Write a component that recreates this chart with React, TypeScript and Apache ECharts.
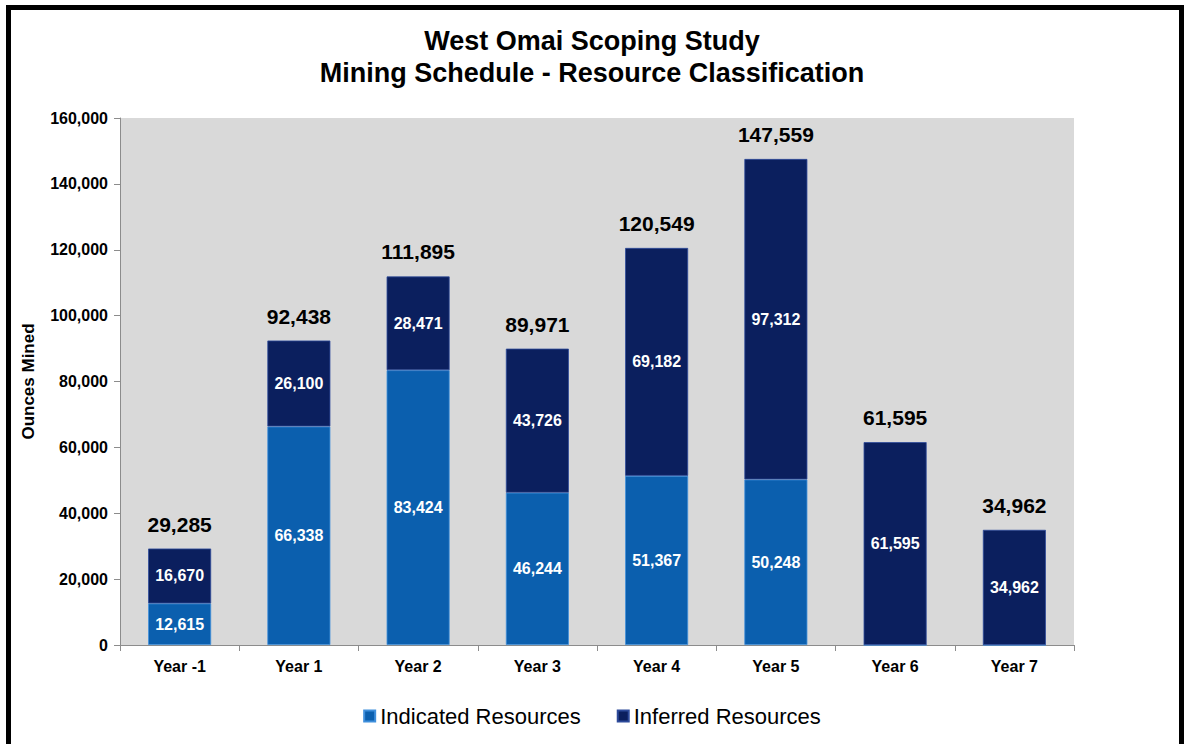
import React, { useEffect, useRef } from "react";
import * as echarts from "echarts";

const categories = ["Year -1", "Year 1", "Year 2", "Year 3", "Year 4", "Year 5", "Year 6", "Year 7"];
const indicated = [12615, 66338, 83424, 46244, 51367, 50248, 0, 0];
const inferred = [16670, 26100, 28471, 43726, 69182, 97312, 61595, 34962];
const totals = [29285, 92438, 111895, 89971, 120549, 147559, 61595, 34962];
const yTicks = [0, 20000, 40000, 60000, 80000, 100000, 120000, 140000, 160000];

const fmt = (v: number) => v.toLocaleString("en-US");
const FONT = "Liberation Sans, Arial, sans-serif";

export default function App() {
  const ref = useRef<HTMLDivElement>(null);
  useEffect(() => {
    if (!ref.current) return;
    const chart = echarts.init(ref.current, null, { renderer: "svg" });
    const innerLabel = {
      show: true,
      position: "inside" as const,
      color: "#ffffff",
      fontWeight: "bold" as const,
      fontSize: 16,
      fontFamily: FONT,
      formatter: (p: any) => (p.value ? fmt(p.value) : ""),
    };
    chart.setOption({
      animation: false,
      backgroundColor: "#ffffff",
      textStyle: { fontFamily: FONT },
      title: {
        text: "West Omai Scoping Study\nMining Schedule - Resource Classification",
        left: "center",
        top: 20,
        textStyle: { fontSize: 27, fontWeight: "bold", color: "#000", lineHeight: 32, fontFamily: FONT },
      },
      graphic: [
        {
          type: "rect",
          shape: { x: 8.5, y: 7.5, width: 1173, height: 760 },
          style: { fill: "none", stroke: "#000", lineWidth: 5 },
          silent: true,
          z: 100,
        },
      ],
      legend: {
        data: ["Indicated Resources", "Inferred Resources"],
        bottom: 12,
        left: "center",
        itemWidth: 11,
        itemHeight: 11,
        itemGap: 36,
        icon: "rect",
        textStyle: { fontSize: 22, color: "#000", fontFamily: FONT },
      },
      grid: {
        left: 120,
        right: 110,
        top: 118,
        bottom: 99,
        show: true,
        backgroundColor: "#d9d9d9",
        borderWidth: 0,
      },
      xAxis: {
        type: "category",
        data: categories,
        axisLine: { lineStyle: { color: "#8c8c8c", width: 1 } },
        axisTick: { show: true, length: 6, lineStyle: { color: "#8c8c8c" } },
        axisLabel: { fontSize: 16, fontWeight: "bold", color: "#000", margin: 13, fontFamily: FONT },
      },
      yAxis: {
        type: "value",
        min: 0,
        max: 160000,
        interval: 20000,
        name: "Ounces Mined",
        nameLocation: "middle",
        nameGap: 83,
        nameTextStyle: { fontSize: 17, fontWeight: "bold", color: "#000", fontFamily: FONT },
        axisLine: { show: true, lineStyle: { color: "#8c8c8c" } },
        axisTick: { show: true, length: 6, lineStyle: { color: "#8c8c8c" } },
        splitLine: { show: false },
        axisLabel: {
          fontSize: 16,
          fontWeight: "bold",
          color: "#000",
          margin: 12,
          fontFamily: FONT,
          formatter: (v: number) => (yTicks.includes(v) ? fmt(v) : ""),
        },
      },
      series: [
        {
          name: "Indicated Resources",
          type: "bar",
          stack: "total",
          barWidth: 63,
          data: indicated,
          itemStyle: {
            color: "#0b5fae",
            borderColor: "#3f8fdc",
            borderWidth: 0.8,
          },
          label: innerLabel,
        },
        {
          name: "Inferred Resources",
          type: "bar",
          stack: "total",
          barWidth: 63,
          data: inferred,
          itemStyle: {
            color: "#0b1f5e",
            borderColor: "#2d4a9a",
            borderWidth: 0.8,
          },
          label: innerLabel,
        },
        {
          name: "Total",
          type: "bar",
          stack: "total",
          barWidth: 63,
          data: totals.map(() => 0),
          itemStyle: { color: "transparent" },
          label: {
            show: true,
            position: "top",
            distance: 14,
            color: "#000",
            fontSize: 21,
            fontWeight: "bold",
            fontFamily: FONT,
            formatter: (p: any) => fmt(totals[p.dataIndex]),
          },
        },
      ],
    });
    return () => chart.dispose();
  }, []);
  return (
    <div
      ref={ref}
      style={{ position: "absolute", left: 0, top: 0, width: 1184, height: 744 }}
    />
  );
}
